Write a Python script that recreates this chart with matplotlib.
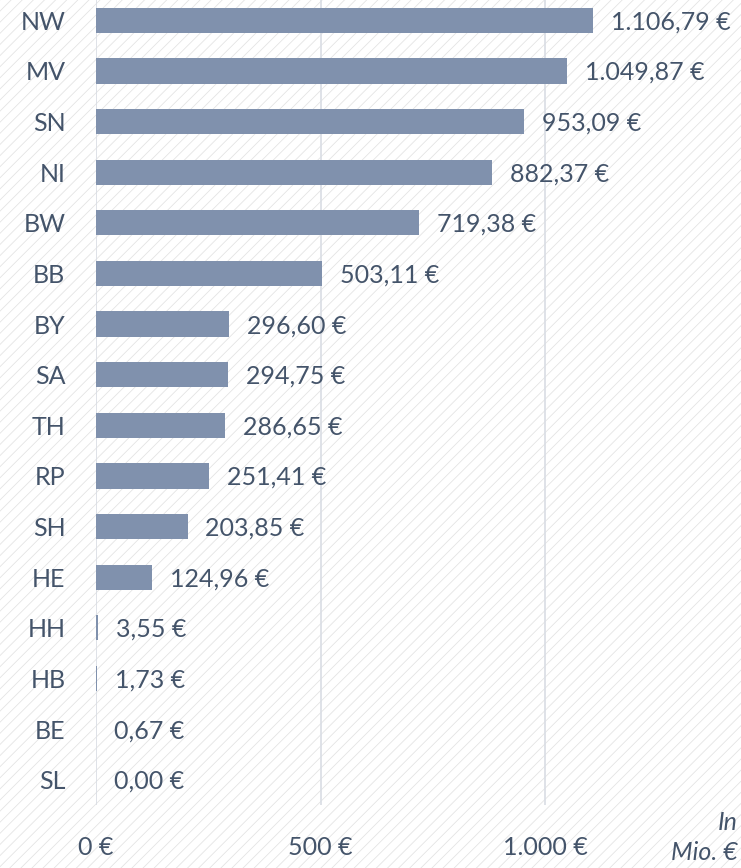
import matplotlib
matplotlib.use("Agg")
import matplotlib.pyplot as plt
from matplotlib.patches import Rectangle

states = ["NW", "MV", "SN", "NI", "BW", "BB", "BY", "SA", "TH", "RP",
          "SH", "HE", "HH", "HB", "BE", "SL"]
values = [1106.79, 1049.87, 953.09, 882.37, 719.38, 503.11, 296.60, 294.75,
          286.65, 251.41, 203.85, 124.96, 3.55, 1.73, 0.67, 0.00]
xticks = [0, 500, 1000]
xticklabels = ["0 €", "500 €", "1.000 €"]

txt = "#44546A"
bar_col = "#8091AD"
grid_col = "#D9DDE4"

plt.rcParams['font.family'] = ['Lato', 'DejaVu Sans']
plt.rcParams['hatch.linewidth'] = 0.6
plt.rcParams['hatch.color'] = '#E4E4E4'


def fmt(v):
    s = f"{v:,.2f}"
    s = s.replace(",", "X").replace(".", ",").replace("X", ".")
    return s + " €"


fig = plt.figure(figsize=(7.41, 8.68), dpi=100)
fig.patch.set_facecolor("white")
# diagonal hatched background
bg = Rectangle((0, 0), 1, 1, transform=fig.transFigure,
               facecolor="white", edgecolor="#E4E4E4",
               hatch="///", linewidth=0, zorder=-10)
fig.patches.append(bg)

ax = fig.add_axes([96 / 741, 1 - 805 / 868, 645 / 741, 810 / 868])
ax.set_facecolor("none")
ax.set_zorder(1)

ypos = list(range(len(states)))
ax.barh(ypos, values, height=0.5, color=bar_col, zorder=3)
for y, v in zip(ypos, values):
    ax.text(v + 40, y + 0.03, fmt(v), va="center", ha="left", fontsize=18,
            color=txt, zorder=4)

ax.set_xlim(0, 645 / 449 * 1000)
ax.set_ylim(len(states) - 0.5, -0.5)
ax.set_yticks(ypos)
ax.set_yticklabels(states)
ax.set_xticks(xticks)
ax.set_xticklabels(xticklabels)
ax.tick_params(axis="y", length=0, pad=22, labelsize=18, labelcolor=txt)
ax.tick_params(axis="x", length=0, pad=22, labelsize=18, labelcolor=txt)
for s in ax.spines.values():
    s.set_visible(False)
ax.grid(axis="x", color=grid_col, linewidth=1.2, zorder=1)

fig.text(738 / 741, 1 - 822 / 868, "In", ha="right", va="center",
         fontsize=18, style="italic", color=txt)
fig.text(738 / 741, 1 - 852 / 868, "Mio. €", ha="right", va="center",
         fontsize=18, style="italic", color=txt)

fig.savefig("out.png", dpi=100)
